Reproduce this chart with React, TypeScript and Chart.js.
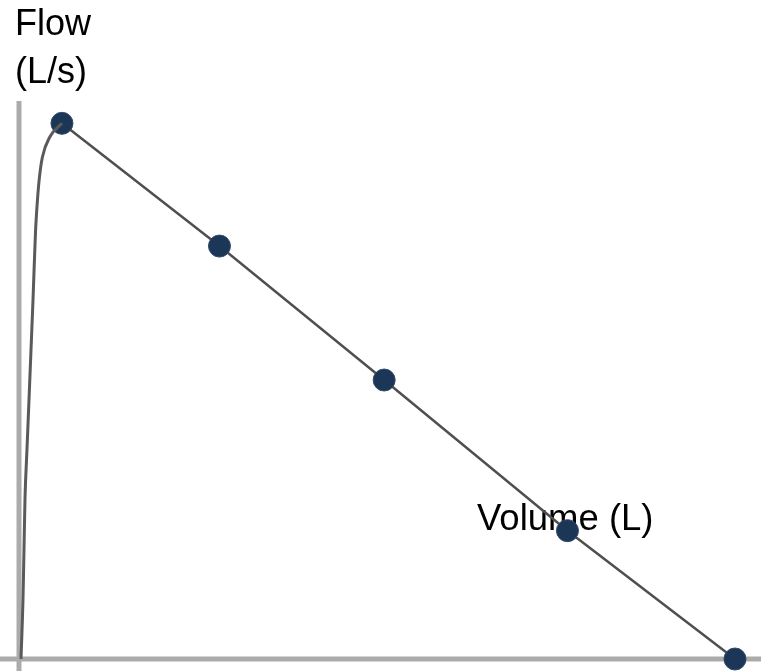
import React, { useEffect, useRef } from "react";
import { Chart, registerables } from "chart.js";

Chart.register(...registerables);

// Rising limb of the flow–volume curve (Volume L, Flow L/s)
const curveVolume = [0.014, 0.028, 0.035, 0.042, 0.056, 0.07, 0.084, 0.098, 0.115, 0.129, 0.143, 0.164, 0.216, 0.3];
const curveFlow = [0, 1.09, 1.98, 2.88, 3.77, 4.66, 5.55, 6.45, 7.64, 8.23, 8.64, 9.0, 9.36, 9.6];

// Marked points on the descending limb
const pointVolume = [0.3, 1.4, 2.55, 3.83, 5.0];
const pointFlow = [9.6, 7.4, 5.0, 2.3, 0];

const yAxisLabel = ["Flow", "(L/s)"];
const xAxisLabel = "Volume (L)";

const overlayPlugin = {
  id: "overlay",
  beforeDatasetsDraw(chart: any) {
    const { ctx, scales, width, height } = chart;
    const x0 = scales.x.getPixelForValue(0);
    const y0 = scales.y.getPixelForValue(0);
    const yTop = chart.chartArea.top;
    ctx.save();
    ctx.strokeStyle = "#ababab";
    ctx.lineWidth = 5;
    ctx.beginPath();
    ctx.moveTo(x0, yTop);
    ctx.lineTo(x0, height);
    ctx.stroke();
    ctx.beginPath();
    ctx.moveTo(0, y0);
    ctx.lineTo(width, y0);
    ctx.stroke();

    ctx.fillStyle = "#000";
    ctx.font = "36px 'Liberation Sans', Arial, sans-serif";
    ctx.textAlign = "left";
    ctx.textBaseline = "alphabetic";
    ctx.fillText(yAxisLabel[0], 15, 35);
    ctx.fillText(yAxisLabel[1], 15, 83);
    ctx.font = "36.5px 'Liberation Sans', Arial, sans-serif";
    ctx.fillText(xAxisLabel, 477, 530);
    ctx.restore();
  },
};

export default function App() {
  const canvasRef = useRef<HTMLCanvasElement | null>(null);

  useEffect(() => {
    if (!canvasRef.current) return;
    const chart = new Chart(canvasRef.current, {
      type: "scatter",
      data: {
        datasets: [
          {
            data: curveVolume.map((v, i) => ({ x: v, y: curveFlow[i] })),
            showLine: true,
            borderColor: "#5a5a5a",
            borderWidth: 3,
            pointRadius: 0,
            cubicInterpolationMode: "monotone",
            clip: false,
          },
          {
            data: pointVolume.map((v, i) => ({ x: v, y: pointFlow[i] })),
            showLine: true,
            borderColor: "#4f4f4f",
            borderWidth: 2.5,
            pointRadius: 11,
            pointBackgroundColor: "#1c3658",
            pointBorderColor: "#34496a",
            pointBorderWidth: 1,
            tension: 0,
            clip: false,
          },
        ],
      },
      options: {
        animation: false,
        responsive: true,
        maintainAspectRatio: false,
        events: [],
        layout: { padding: { left: 19, right: 26, top: 101, bottom: 10 } },
        plugins: {
          legend: { display: false },
          tooltip: { enabled: false },
          title: { display: false },
        },
        scales: {
          x: { type: "linear", display: false, min: 0, max: 5 },
          y: { type: "linear", display: false, min: 0, max: 10 },
        },
      },
      plugins: [overlayPlugin],
    });
    return () => chart.destroy();
  }, []);

  return (
    <div style={{ position: "fixed", left: 0, top: 0, width: 761, height: 671 }}>
      <canvas ref={canvasRef} />
    </div>
  );
}
